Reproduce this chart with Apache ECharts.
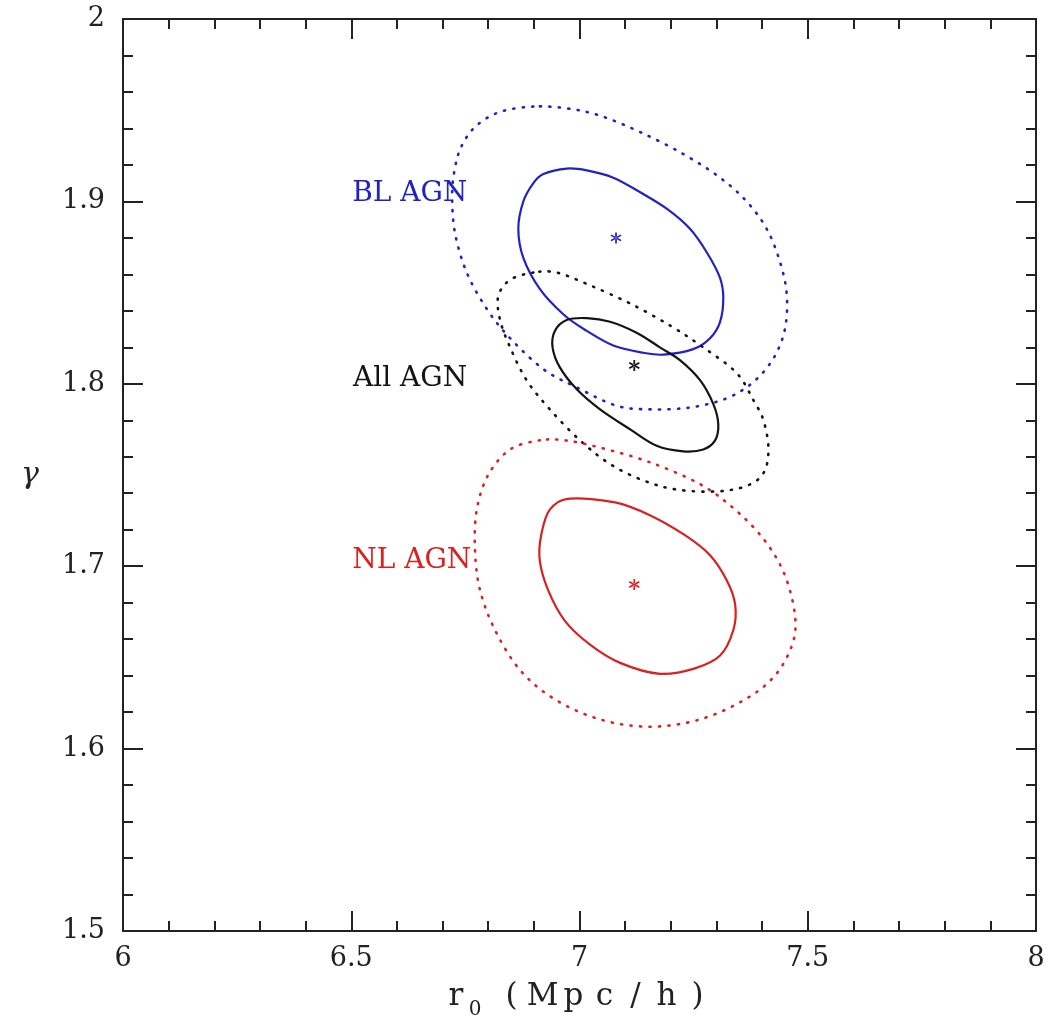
<!DOCTYPE html>
<html>
<head>
<meta charset="utf-8">
<script src="https://cdn.jsdelivr.net/npm/echarts@6/dist/echarts.min.js"></script>
<style>
  html, body { margin: 0; padding: 0; background: #ffffff; }
  #chart { width: 1046px; height: 1022px; }
</style>
</head>
<body>
<div id="chart"></div>
<script>
// Likelihood contours in the (r0, gamma) plane for the AGN clustering fits.
// Each contour is a closed list of [r0, gamma] points.

const blAgnInner = [
  [6.921, 1.915], [6.972, 1.918], [7.016, 1.917], [7.074, 1.913], [7.133, 1.905],
  [7.191, 1.896], [7.242, 1.885], [7.279, 1.872], [7.308, 1.858], [7.315, 1.847],
  [7.308, 1.834], [7.286, 1.825], [7.249, 1.819], [7.184, 1.816], [7.140, 1.817],
  [7.074, 1.821], [7.016, 1.829], [6.965, 1.838], [6.913, 1.852], [6.877, 1.869],
  [6.866, 1.885], [6.877, 1.900], [6.899, 1.910]
];
const blAgnOuter = [
  [6.899, 1.952], [6.825, 1.949], [6.772, 1.941], [6.741, 1.930], [6.727, 1.918],
  [6.721, 1.904], [6.727, 1.883], [6.753, 1.861], [6.797, 1.841], [6.848, 1.825],
  [6.921, 1.808], [6.994, 1.798], [7.081, 1.788], [7.154, 1.786], [7.242, 1.787],
  [7.322, 1.792], [7.381, 1.801], [7.425, 1.814], [7.450, 1.830], [7.454, 1.849],
  [7.439, 1.867], [7.410, 1.885], [7.366, 1.900], [7.308, 1.913], [7.227, 1.926],
  [7.133, 1.938], [7.045, 1.947], [6.972, 1.951]
];
const allAgnInner = [
  [7.016, 1.836], [6.972, 1.835], [6.946, 1.829], [6.941, 1.820], [6.957, 1.809],
  [6.994, 1.797], [7.045, 1.786], [7.111, 1.775], [7.169, 1.766], [7.227, 1.763],
  [7.271, 1.764], [7.297, 1.769], [7.304, 1.778], [7.293, 1.789], [7.264, 1.802],
  [7.220, 1.813], [7.176, 1.820], [7.125, 1.828], [7.067, 1.834]
];
const allAgnOuter = [
  [6.899, 1.861], [6.848, 1.857], [6.822, 1.848], [6.826, 1.835], [6.848, 1.820],
  [6.884, 1.802], [6.935, 1.786], [7.001, 1.769], [7.067, 1.756], [7.140, 1.747],
  [7.213, 1.742], [7.301, 1.741], [7.366, 1.744], [7.403, 1.751], [7.414, 1.764],
  [7.403, 1.780], [7.381, 1.791], [7.344, 1.806], [7.271, 1.820], [7.198, 1.832],
  [7.111, 1.844], [7.023, 1.854], [6.950, 1.861]
];
const nlAgnInner = [
  [6.979, 1.737], [6.935, 1.731], [6.916, 1.717], [6.913, 1.703], [6.931, 1.687],
  [6.968, 1.670], [7.023, 1.657], [7.089, 1.647], [7.176, 1.641], [7.253, 1.644],
  [7.308, 1.651], [7.337, 1.665], [7.341, 1.679], [7.323, 1.692], [7.286, 1.706],
  [7.231, 1.717], [7.154, 1.728], [7.078, 1.735]
];
const nlAgnOuter = [
  [6.913, 1.769], [6.848, 1.764], [6.800, 1.750], [6.775, 1.731], [6.771, 1.709],
  [6.782, 1.687], [6.815, 1.665], [6.870, 1.643], [6.946, 1.627], [7.045, 1.616],
  [7.154, 1.612], [7.264, 1.616], [7.363, 1.627], [7.428, 1.640], [7.466, 1.657],
  [7.472, 1.673], [7.450, 1.695], [7.406, 1.714], [7.341, 1.731], [7.264, 1.745],
  [7.154, 1.757], [7.045, 1.765], [6.968, 1.769]
];

// Best-fit values [r0, gamma]
const blAgnBest = [7.08, 1.88];
const allAgnBest = [7.12, 1.81];
const nlAgnBest = [7.12, 1.69];

// Sample names and where their labels sit, in [r0, gamma]
const sampleNames = ['BL AGN', 'All AGN', 'NL AGN'];
const sampleLabelAt = [[6.502, 1.904], [6.504, 1.803], [6.502, 1.703]];

// Axis ranges and tick spacing
const r0Range = [6, 8];
const gammaRange = [1.5, 2];
const r0Step = 0.5;
const gammaStep = 0.1;

const BLUE = '#2222c2';
const BLACK = '#141414';
const RED = '#d82222';
const INK = '#222222';
const SERIF = '"DejaVu Serif", "Liberation Serif", serif';

const ASTERISK = 'path://M-1.5 -10L1.5 -10L1.5 10L-1.5 10Z' +
  'M7.91 6.3L9.41 3.7L-7.91 -6.3L-9.41 -3.7Z' +
  'M-9.41 3.7L-7.91 6.3L9.41 -3.7L7.91 -6.3Z';

// Closed Catmull-Rom curve through pixel points, written as SVG path data.
function closedCurvePath(pts) {
  const n = pts.length;
  let d = 'M' + pts[0][0].toFixed(2) + ' ' + pts[0][1].toFixed(2);
  for (let i = 0; i < n; i++) {
    const p0 = pts[(i - 1 + n) % n];
    const p1 = pts[i];
    const p2 = pts[(i + 1) % n];
    const p3 = pts[(i + 2) % n];
    const c1x = p1[0] + (p2[0] - p0[0]) / 6;
    const c1y = p1[1] + (p2[1] - p0[1]) / 6;
    const c2x = p2[0] - (p3[0] - p1[0]) / 6;
    const c2y = p2[1] - (p3[1] - p1[1]) / 6;
    d += 'C' + c1x.toFixed(2) + ' ' + c1y.toFixed(2) + ' ' +
         c2x.toFixed(2) + ' ' + c2y.toFixed(2) + ' ' +
         p2[0].toFixed(2) + ' ' + p2[1].toFixed(2);
  }
  return d + 'Z';
}

// A contour is one closed curve through its points, each placed by the cartesian axes.
function contour(points, color, dotted) {
  return {
    type: 'custom',
    coordinateSystem: 'cartesian2d',
    data: points,
    encode: { x: 0, y: 1 },
    silent: true,
    animation: false,
    clip: false,
    renderItem: function (params, api) {
      if (params.dataIndex !== 0) return null;
      const pts = points.map(function (p) { return api.coord(p); });
      return {
        type: 'path',
        shape: { pathData: closedCurvePath(pts) },
        style: dotted
          ? { fill: 'none', stroke: color, lineWidth: 2.6, lineDash: [1.2, 8.3], lineCap: 'round' }
          : { fill: 'none', stroke: color, lineWidth: 2.2 }
      };
    }
  };
}

function bestFit(point, color) {
  return {
    type: 'scatter',
    data: [point],
    symbol: ASTERISK,
    symbolSize: 11,
    silent: true,
    animation: false,
    itemStyle: { color: color, opacity: 1 }
  };
}

const labelColors = [BLUE, BLACK, RED];

function axisCommon(range, step, minorSplit, showLabels, position) {
  return {
    type: 'value',
    position: position,
    min: range[0],
    max: range[1],
    interval: step,
    axisLine: { show: true, onZero: false, lineStyle: { color: INK, width: 2 } },
    axisTick: { show: true, inside: true, length: 20, lineStyle: { color: INK, width: 2 } },
    minorTick: { show: true, splitNumber: minorSplit, length: 10, lineStyle: { color: INK, width: 2 } },
    splitLine: { show: false },
    minorSplitLine: { show: false },
    axisLabel: {
      show: showLabels,
      color: INK,
      fontFamily: SERIF,
      fontSize: 27,
      margin: 16
    }
  };
}

// x-axis title: each glyph sits in its own fixed-width cell for wide, even spacing
const titleGlyph = { fontFamily: SERIF, fontSize: 31, color: INK, width: 31, align: 'center', verticalAlign: 'bottom', padding: [0, 0, 8, 0] };
const xTitle = '{r|r}{s|0}{sp| }{g|(}{g|M}{g|p}{g|c}{g|/}{g|h}{g|)}';

const chart = echarts.init(document.getElementById('chart'), null, { renderer: 'canvas' });

const xBottom = Object.assign(axisCommon(r0Range, r0Step, 5, true, 'bottom'), {
  name: xTitle,
  nameLocation: 'middle',
  nameGap: 50,
  nameTextStyle: {
    color: INK,
    rich: {
      r: Object.assign({}, titleGlyph, { width: 20 }),
      s: { fontFamily: SERIF, fontSize: 20, color: INK, width: 18, align: 'center', verticalAlign: 'bottom' },
      sp: Object.assign({}, titleGlyph, { width: 12 }),
      g: titleGlyph
    }
  }
});
xBottom.axisLabel.margin = 14;
const xTop = axisCommon(r0Range, r0Step, 5, false, 'top');

const yLeft = Object.assign(axisCommon(gammaRange, gammaStep, 5, true, 'left'), {
  name: 'γ',
  nameLocation: 'middle',
  nameRotate: 0,
  nameGap: 93,
  nameTextStyle: {
    color: INK,
    fontFamily: SERIF,
    fontStyle: 'italic',
    fontSize: 30,
    align: 'center',
    verticalAlign: 'middle'
  }
});
yLeft.axisLabel.margin = 18;
const yRight = axisCommon(gammaRange, gammaStep, 5, false, 'right');

chart.setOption({
  backgroundColor: '#ffffff',
  animation: false,
  grid: { left: 123, right: 10, top: 19, bottom: 91, containLabel: false, outerBoundsMode: 'none' },
  xAxis: [xBottom, xTop],
  yAxis: [yLeft, yRight],
  series: [
    contour(blAgnOuter, BLUE, true),
    contour(blAgnInner, BLUE, false),
    contour(allAgnOuter, BLACK, true),
    contour(allAgnInner, BLACK, false),
    contour(nlAgnOuter, RED, true),
    contour(nlAgnInner, RED, false),
    bestFit(blAgnBest, BLUE),
    bestFit(allAgnBest, BLACK),
    bestFit(nlAgnBest, RED),
    {
      type: 'scatter',
      symbolSize: 0,
      silent: true,
      animation: false,
      itemStyle: { opacity: 1 },
      data: sampleNames.map(function (n, i) {
        return {
          name: n,
          value: sampleLabelAt[i],
          label: { color: labelColors[i] }
        };
      }),
      label: {
        show: true,
        position: 'right',
        distance: 0,
        formatter: '{b}',
        fontFamily: SERIF,
        fontSize: 28,
        opacity: 1
      }
    }
  ]
});
</script>
</body>
</html>
